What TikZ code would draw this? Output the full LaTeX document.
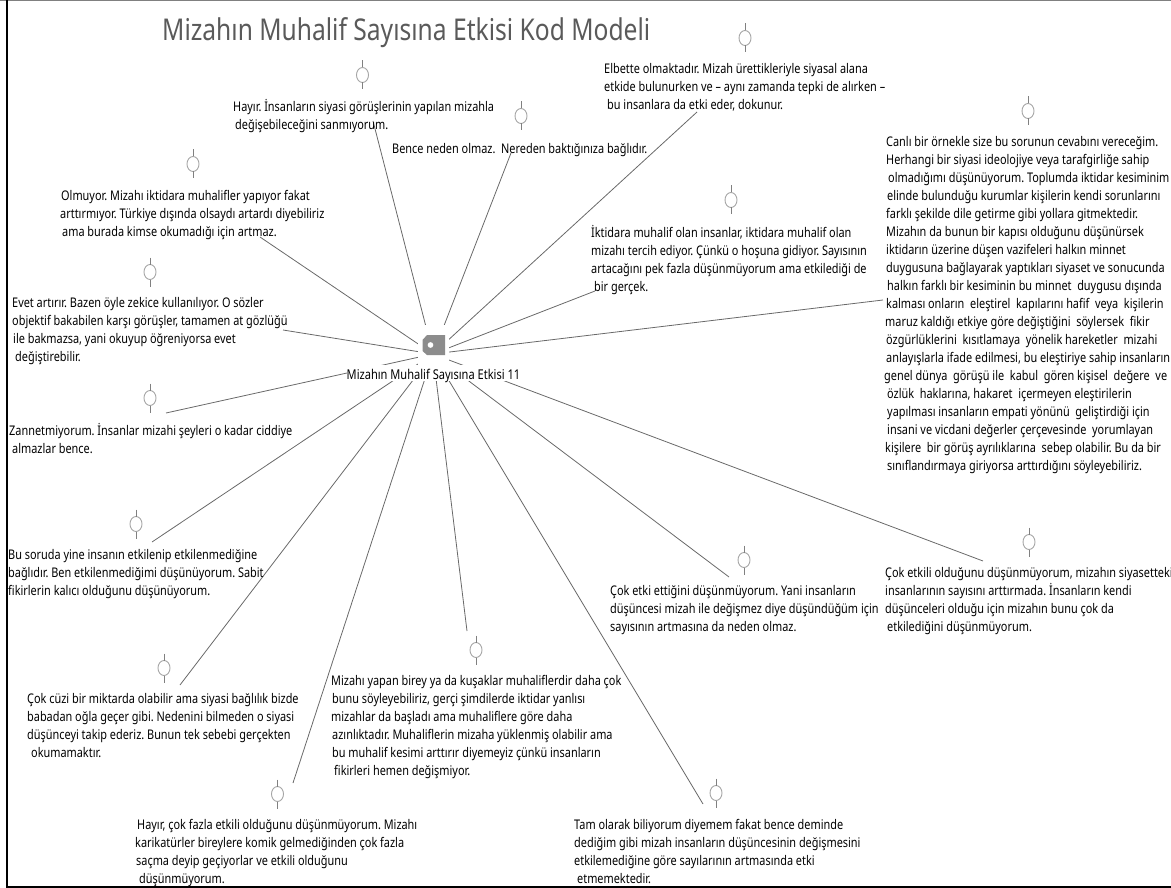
\documentclass[tikz,border=0pt]{standalone}
\usepackage{fontspec}
\setmainfont[FakeStretch=0.82]{Noto Sans}
\frenchspacing
\usepackage{tikz}
\definecolor{linkgray}{RGB}{105,105,105}
\definecolor{tagray}{RGB}{140,140,140}
\definecolor{pingray}{RGB}{165,165,165}
\definecolor{titlegray}{RGB}{90,90,90}
\tikzset{
    quote/.style={anchor=north west,inner sep=0pt,yshift=-3.2pt,align=left,font=\fontsize{13.3}{18}\selectfont,execute at begin node=\strut},
    link/.style={draw=linkgray,line width=0.8pt},
    mask/.style={fill=white,inner sep=0pt},
    pinmark/.pic={
        \draw[pingray,line width=0.9pt] (0,0) ellipse (6 and 7.5);
        \draw[gray,line width=0.7pt] (0,-14.5) -- (0,-7.5) (0,7.5) -- (0,14.5);
    }
}

\begin{document}
\begin{tikzpicture}[x=1pt,y=-1pt]
    \useasboundingbox (0,0) rectangle (1171,888);

    % Frame
    \draw[gray,line width=1pt] (0,0.5) -- (1171,0.5);
    \draw[black,line width=2pt] (7,0) -- (7,887) -- (1171,887);

    % Title
    \node[anchor=west,inner sep=0pt,font=\fontsize{30}{36}\selectfont,titlegray] (title) at (162,33) {Mizahın Muhalif Sayısına Etkisi Kod Modeli};

    % Connector ends
    \coordinate (hubc) at (433,354);
    \coordinate (hayirend) at (373,121);
    \coordinate (benceend) at (511,153);
    \coordinate (elbetteend) at (697,112);
    \coordinate (iktidarend) at (595,291);
    \coordinate (canliend) at (883,300);
    \coordinate (olmuyorend) at (260,237);
    \coordinate (evetend) at (283,330);
    \coordinate (zannetend) at (166,413);
    \coordinate (soruend) at (152,542);
    \coordinate (cuziend) at (180,685);
    \coordinate (fazlaend) at (293,783);
    \coordinate (yapanend) at (467,631);
    \coordinate (tamend) at (703,804);
    \coordinate (ettigiend) at (729,577);
    \coordinate (etkiliend) at (983,561);

    % Connectors
    \draw[link] (hubc) -- (hayirend);
    \draw[link] (hubc) -- (benceend);
    \draw[link] (hubc) -- (elbetteend);
    \draw[link] (hubc) -- (iktidarend);
    \draw[link] (hubc) -- (canliend);
    \draw[link] (hubc) -- (olmuyorend);
    \draw[link] (hubc) -- (evetend);
    \draw[link] (hubc) -- (zannetend);
    \draw[link] (hubc) -- (soruend);
    \draw[link] (hubc) -- (cuziend);
    \draw[link] (hubc) -- (fazlaend);
    \draw[link] (hubc) -- (yapanend);
    \draw[link] (hubc) -- (tamend);
    \draw[link] (hubc) -- (ettigiend);
    \draw[link] (hubc) -- (etkiliend);

    % Hub
    \node[mask,minimum width=31pt,minimum height=40pt] (hub) at (433.5,345) {};
    \node[mask,minimum width=172pt,minimum height=16pt,text height=12.5pt,text depth=0.5pt,font=\fontsize{13.5}{18}\selectfont] (hublabel) at (433.5,373) {Mizahın Muhalif Sayısına Etkisi 11};
    \fill[tagray,even odd rule] (422.5,340) -- (427,335) -- (445,335) -- (445,355) -- (427,355) -- (422.5,351) -- cycle (430.5,345) circle (3);

    % Pins
    \pic at (362.5,75) {pinmark};
    \pic at (521,116) {pinmark};
    \pic at (745,38) {pinmark};
    \pic at (731,200) {pinmark};
    \pic at (1028,111) {pinmark};
    \pic at (193,164) {pinmark};
    \pic at (150,272) {pinmark};
    \pic at (150,398) {pinmark};
    \pic at (136,524) {pinmark};
    \pic at (164,668) {pinmark};
    \pic at (277.5,794) {pinmark};
    \pic at (476,650) {pinmark};
    \pic at (716,793) {pinmark};
    \pic at (744,560) {pinmark};
    \pic at (1029,542) {pinmark};

    % Quotes
    \node[quote] (hayir) at (233,96) {Hayır. İnsanların siyasi görüşlerinin yapılan mizahla\\\hspace*{2pt}değişebileceğini sanmıyorum.};
    \node[quote] (bence) at (392,138) {Bence neden olmaz.~ Nereden baktığınıza bağlıdır.};
    \node[quote] (elbette) at (604,60) {Elbette olmaktadır. Mizah ürettikleriyle siyasal alana\\etkide bulunurken ve – aynı zamanda tepki de alırken –\\\hspace*{3pt}bu insanlara da etki eder, dokunur.};
    \node[quote] (iktidar) at (591,222) {İktidara muhalif olan insanlar, iktidara muhalif olan\\mizahı tercih ediyor. Çünkü o hoşuna gidiyor. Sayısının\\artacağını pek fazla düşünmüyorum ama etkilediği de\\\hspace*{3pt}bir gerçek.};
    \node[quote] (canli) at (884,133) {\hspace*{2pt}Canlı bir örnekle size bu sorunun cevabını vereceğim.\\
        \hspace*{2pt}Herhangi bir siyasi ideolojiye veya tarafgirliğe sahip\\
        \hspace*{4pt}olmadığımı düşünüyorum. Toplumda iktidar kesiminim\\
        \hspace*{3pt}elinde bulunduğu kurumlar kişilerin kendi sorunlarını\\
        \hspace*{2pt}farklı şekilde dile getirme gibi yollara gitmektedir.\\
        \hspace*{2pt}Mizahın da bunun bir kapısı olduğunu düşünürsek\\
        \hspace*{2pt}iktidarın üzerine düşen vazifeleri halkın minnet\\
        \hspace*{2pt}duygusuna bağlayarak yaptıkları siyaset ve sonucunda\\
        \hspace*{3pt}halkın farklı bir kesiminin bu minnet~ duygusu dışında\\
        \hspace*{2pt}kalması onların~ eleştirel~ kapılarını hafif~ veya~ kişilerin\\
        \hspace*{1pt}maruz kaldığı etkiye göre değiştiğini~ söylersek~ fikir\\
        \hspace*{2pt}özgürlüklerini~ kısıtlamaya~ yönelik hareketler~ mizahi\\
        \hspace*{2pt}anlayışlarla ifade edilmesi, bu eleştiriye sahip insanların\\
        genel dünya~ görüşü ile~ kabul~ gören kişisel~ değere~ ve\\
        \hspace*{3pt}özlük~ haklarına, hakaret~ içermeyen eleştirilerin\\
        \hspace*{3pt}yapılması insanların empati yönünü~ geliştirdiği için\\
        \hspace*{3pt}insani ve vicdani değerler çerçevesinde~ yorumlayan\\
        \hspace*{1pt}kişilere~ bir görüş ayrılıklarına~ sebep olabilir. Bu da bir\\
        \hspace*{3pt}sınıflandırmaya giriyorsa arttırdığını söyleyebiliriz.};
    \node[quote] (olmuyor) at (60,187) {\hspace*{1pt}Olmuyor. Mizahı iktidara muhalifler yapıyor fakat\\arttırmıyor. Türkiye dışında olsaydı artardı diyebiliriz\\\hspace*{2pt}ama burada kimse okumadığı için artmaz.};
    \node[quote] (evet) at (12,294) {Evet artırır. Bazen öyle zekice kullanılıyor. O sözler\\objektif bakabilen karşı görüşler, tamamen at gözlüğü\\\hspace*{1pt}ile bakmazsa, yani okuyup öğreniyorsa evet\\\hspace*{3pt}değiştirebilir.};
    \node[quote] (zannet) at (9,420) {Zannetmiyorum. İnsanlar mizahi şeyleri o kadar ciddiye\\\hspace*{3pt}almazlar bence.};
    \node[quote] (soru) at (8,546) {Bu soruda yine insanın etkilenip etkilenmediğine\\bağlıdır. Ben etkilenmediğimi düşünüyorum. Sabit\\fikirlerin kalıcı olduğunu düşünüyorum.};
    \node[quote] (cuzi) at (27,690) {Çok cüzi bir miktarda olabilir ama siyasi bağlılık bizde\\babadan oğla geçer gibi. Nedenini bilmeden o siyasi\\düşünceyi takip ederiz. Bunun tek sebebi gerçekten\\\hspace*{4pt}okumamaktır.};
    \node[quote] (yapan) at (331,672) {Mizahı yapan birey ya da kuşaklar muhaliflerdir daha çok\\\hspace*{1pt}bunu söyleyebiliriz, gerçi şimdilerde iktidar yanlısı\\mizahlar da başladı ama muhaliflere göre daha\\\hspace*{1pt}azınlıktadır. Muhaliflerin mizaha yüklenmiş olabilir ama\\\hspace*{1pt}bu muhalif kesimi arttırır diyemeyiz çünkü insanların\\\hspace*{3pt}fikirleri hemen değişmiyor.};
    \node[quote] (fazla) at (135,816) {\hspace*{2pt}Hayır, çok fazla etkili olduğunu düşünmüyorum. Mizahı\\karikatürler bireylere komik gelmediğinden çok fazla\\\hspace*{1pt}saçma deyip geçiyorlar ve etkili olduğunu\\\hspace*{4pt}düşünmüyorum.};
    \node[quote] (tam) at (574,816) {Tam olarak biliyorum diyemem fakat bence deminde\\dediğim gibi mizah insanların düşüncesinin değişmesini\\etkilemediğine göre sayılarının artmasında etki\\\hspace*{3pt}etmemektedir.};
    \node[quote] (ettigi) at (610,582) {Çok etki ettiğini düşünmüyorum. Yani insanların\\düşüncesi mizah ile değişmez diye düşündüğüm için\\sayısının artmasına da neden olmaz.};
    \node[quote] (etkili) at (885,564) {Çok etkili olduğunu düşünmüyorum, mizahın siyasetteki\\insanlarının sayısını arttırmada. İnsanların kendi\\düşünceleri olduğu için mizahın bunu çok da\\\hspace*{2pt}etkilediğini düşünmüyorum.};
\end{tikzpicture}
\end{document}
